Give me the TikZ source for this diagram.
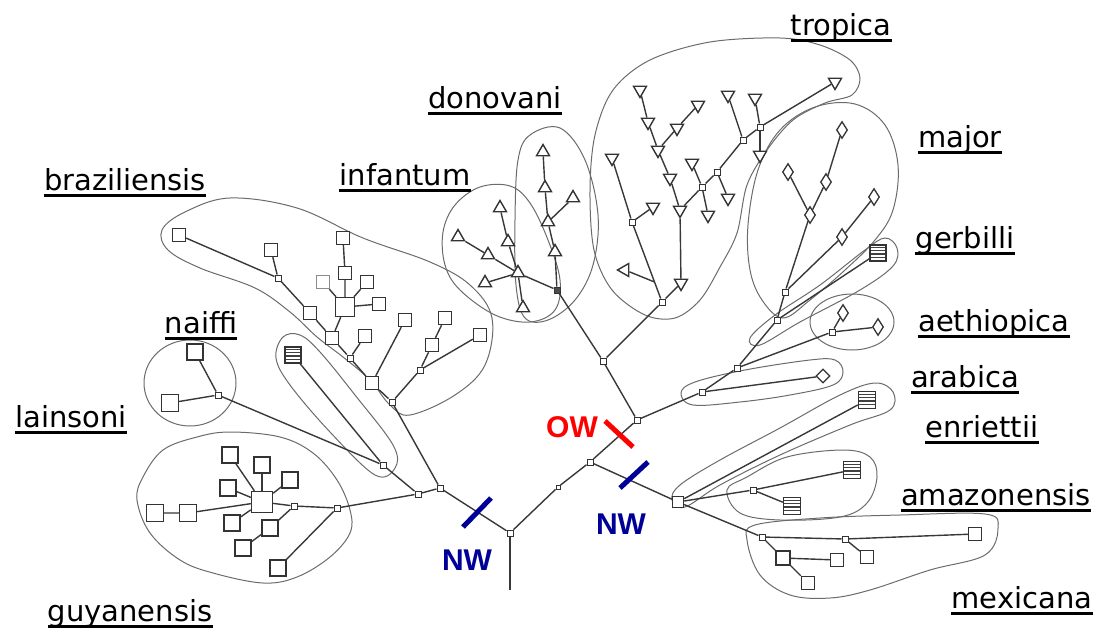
\documentclass[tikz,border=0pt]{standalone}
\usepackage{fontspec}
\usetikzlibrary{shapes.geometric,calc}
\newfontfamily\lblfont{DejaVu Sans}
\newfontfamily\nwfont{Liberation Sans}
\definecolor{nwblue}{RGB}{0,0,150}
\definecolor{owred}{RGB}{255,0,0}
\begin{document}
\begin{tikzpicture}[x=1pt,y=-1pt,
  ln/.style={draw=black!78, line width=1.4pt},
  hull/.style={draw=black!58, line width=1pt},
  jn/.style={draw=black!80, fill=white, rectangle, minimum size=6pt, inner sep=0pt, line width=1pt},
  djn/.style={jn, fill=black!70},
  sq/.style={draw=black!80, fill=white, rectangle, minimum size=13pt, inner sep=0pt, line width=1.4pt},
  bsq/.style={sq, minimum size=21pt},
  tri/.style={draw=black!80, fill=white, regular polygon, regular polygon sides=3, minimum size=15pt, inner sep=0pt, line width=1.4pt},
  trd/.style={tri, shape border rotate=180},
  dia/.style={draw=black!80, fill=white, diamond, minimum width=11pt, minimum height=17pt, inner sep=0pt, line width=1.3pt},
  hsq/.style={sq, minimum size=16pt, path picture={\foreach \f in {0.24,0.44,0.64,0.82}{\draw[line width=1.2pt,black!75] ($(path picture bounding box.south west)!\f!(path picture bounding box.north west)$) -- ($(path picture bounding box.south east)!\f!(path picture bounding box.north east)$);}}},
  lbl/.style={font={\lblfont\fontsize{29}{34}\selectfont}, inner sep=0pt, anchor=base},
  nwl/.style={font={\nwfont\bfseries\fontsize{30}{34}\selectfont}, inner sep=0pt},
  bar/.style={line width=5pt}
]
\useasboundingbox (0,0) rectangle (1097,632);

% ---------------- hulls ----------------
\draw[hull] plot[smooth cycle, tension=0.6] coordinates {(162,230) (185,212) (230,198) (297,208) (363,238) (430,262) (470,285) (492,318) (485,365) (455,395) (410,415) (390,405) (370,380) (343,357) (317,337) (290,312) (255,288) (200,268) (168,250)};
\draw[hull] (190,383) ellipse [x radius=46, y radius=43];
\draw[hull] plot[smooth cycle, tension=0.6] coordinates {(283,337) (300,335) (320,352) (355,395) (393,445) (395,468) (375,475) (330,432) (290,385) (276,358)};
\draw[hull] plot[smooth cycle, tension=0.6] coordinates {(137,500) (143,477) (163,450) (197,437) (230,432) (280,437) (313,453) (337,480) (350,510) (350,533) (330,557) (297,577) (263,583) (213,573) (180,560) (150,533)};
\draw[hull] plot[smooth cycle, tension=0.6] coordinates {(443,232) (455,205) (480,187) (510,186) (530,203) (548,240) (560,280) (555,310) (530,322) (495,315) (460,290) (445,265)};
\draw[hull] plot[smooth cycle, tension=0.6] coordinates {(518,160) (530,135) (560,128) (585,160) (598,215) (593,265) (575,300) (548,320) (525,318) (516,285) (515,220)};
\draw[hull] plot[smooth cycle, tension=0.55] coordinates {(780,38) (820,45) (850,60) (860,78) (852,95) (825,103) (793,120) (767,150) (747,185) (737,233) (720,267) (700,300) (675,318) (645,315) (612,290) (594,250) (590,190) (595,135) (613,90) (650,60) (710,42)};
\draw[hull] plot[smooth cycle, tension=0.6] coordinates {(783,318) (762,300) (750,270) (748,225) (758,170) (780,130) (815,107) (855,104) (885,125) (898,165) (893,210) (875,240) (845,270) (810,300)};
\draw[hull] plot[smooth cycle, tension=0.6] coordinates {(750,338) (775,315) (820,285) (865,250) (885,238) (897,248) (893,266) (860,290) (800,322) (760,345)};
\draw[hull] (852,322) ellipse [x radius=42, y radius=28];
\draw[hull] plot[smooth cycle, tension=0.6] coordinates {(681,393) (695,382) (745,370) (810,360) (835,360) (843,372) (833,385) (790,395) (740,402) (693,405)};
\draw[hull] plot[smooth cycle, tension=0.6] coordinates {(672,500) (680,485) (720,460) (780,428) (840,395) (875,383) (893,392) (890,410) (850,425) (780,455) (720,485) (685,507)};
\draw[hull] plot[smooth cycle, tension=0.6] coordinates {(727,490) (747,477) (787,457) (843,450) (870,457) (877,477) (867,503) (840,517) (780,520) (740,513)};
\draw[hull] plot[smooth cycle, tension=0.6] coordinates {(747,540) (755,525) (820,518) (900,515) (985,514) (998,528) (985,555) (930,570) (870,590) (830,598) (790,595) (760,575)};

% ---------------- backbone nodes ----------------
\coordinate (root) at (510,590);
\node[jn] (r1) at (510,533) {};
\node[jn] (l1) at (440,488) {};
\node[jn] (l2) at (418,494) {};
\node[jn] (c1) at (383,465) {};
\node[jn, minimum size=4pt] (bmp) at (558,487) {};
\node[jn] (r2) at (590,462) {};
\node[jn] (r3) at (637,420) {};
\node[jn] (up) at (603,361) {};
\node[djn] (d0) at (557,290) {};
\node[jn] (t0) at (662,302) {};
\node[jn] (ar) at (702,392) {};
\node[jn] (ae0) at (737,368) {};
\node[jn] (gb) at (777,320) {};
\node[jn] (mj) at (785,292) {};
\node[sq, minimum size=11pt] (nw0) at (678,502) {};

% braziliensis
\node[sq] (b1) at (179,235) {};
\node[jn] (b2) at (278,278) {};
\node[sq] (b2a) at (271,250) {};
\node[sq] (b3) at (310,313) {};
\node[sq] (b4) at (332,338) {};
\node[jn] (b5) at (350,358) {};
\node[sq] (b5a) at (365,336) {};
\node[sq] (b6) at (372,383) {};
\node[sq] (b6a) at (405,320) {};
\node[jn] (b7) at (392,402) {};
\node[jn] (b8) at (420,370) {};
\node[sq] (b8a) at (432,345) {};
\node[sq] (b8b) at (445,318) {};
\node[sq] (b8c) at (480,335) {};
\node[bsq, minimum size=19pt] (bb) at (345,307) {};
\node[sq] (bb1) at (345,273) {};
\node[sq] (bb2) at (343,238) {};
\node[sq, draw=black!45] (bb3) at (323,282) {};
\node[sq] (bb4) at (367,282) {};
\node[sq] (bb5) at (379,304) {};

% naiffi + hatched
\node[jn] (nf0) at (218,395) {};
\node[sq, minimum size=16pt] (nf1) at (195,352) {};
\node[sq, minimum size=17pt] (nf2) at (170,403) {};
\node[hsq] (h1) at (293,355) {};

% guyanensis
\node[jn] (g1) at (337,508) {};
\node[jn] (g2) at (294,506) {};
\node[bsq] (g3) at (262,502) {};
\node[sq, minimum size=17pt] (g4) at (188,513) {};
\node[sq, minimum size=17pt] (g5) at (155,513) {};
\node[sq, minimum size=16pt] (g6) at (230,455) {};
\node[sq, minimum size=16pt] (g7) at (262,465) {};
\node[sq, minimum size=16pt] (g8) at (290,480) {};
\node[sq, minimum size=16pt] (g11) at (228,488) {};
\node[sq, minimum size=16pt] (g12) at (232,523) {};
\node[sq, minimum size=16pt] (g9) at (270,528) {};
\node[sq, minimum size=16pt] (g10) at (243,548) {};
\node[sq, minimum size=16pt] (g13) at (278,568) {};

% donovani / infantum
\node[tri] (d1) at (555,252) {};
\node[tri] (d2) at (548,222) {};
\node[tri] (d3) at (545,188) {};
\node[tri] (d4) at (543,152) {};
\node[tri] (d5) at (573,198) {};
\node[tri] (i0) at (518,273) {};
\node[tri] (i1) at (508,242) {};
\node[tri] (i2) at (500,208) {};
\node[tri] (i3) at (488,255) {};
\node[tri] (i4) at (458,237) {};
\node[tri] (i5) at (485,283) {};
\node[tri] (i6) at (523,308) {};

% tropica
\node[jn] (t1) at (632,222) {};
\node[trd] (tA) at (612,158) {};
\node[trd] (tB) at (653,207) {};
\coordinate (tLb) at ($(t0)!0.25!(t1)$);
\node[tri, shape border rotate=90] (tL) at (625,270) {};
\node[trd] (t2) at (681,283) {};
\node[trd] (t3) at (680,210) {};
\node[trd] (t4) at (670,178) {};
\node[trd] (t5) at (658,150) {};
\node[trd] (t6) at (648,122) {};
\node[trd] (t7) at (640,90) {};
\node[trd] (t8) at (677,128) {};
\node[trd] (t9) at (698,105) {};
\node[jn] (t10) at (702,187) {};
\node[trd] (t11) at (692,163) {};
\node[trd] (t12) at (708,215) {};
\node[jn] (t13) at (717,172) {};
\node[trd] (t14) at (728,198) {};
\node[jn] (t15) at (743,140) {};
\node[trd] (t16) at (728,95) {};
\node[jn] (t17) at (760,127) {};
\node[trd] (t18) at (755,98) {};
\node[trd] (t19) at (760,155) {};
\node[tri, shape border rotate=-60] (t20) at (835,82) {};

% major, gerbilli, aethiopica, arabica
\node[dia] (mjA) at (810,215) {};
\node[dia] (mjB) at (788,172) {};
\node[dia] (mjC) at (826,182) {};
\node[dia] (mjD) at (842,130) {};
\node[dia] (mjE) at (842,237) {};
\node[dia] (mjF) at (874,197) {};
\node[hsq] (gh) at (878,253) {};
\node[jn] (ae1) at (832,332) {};
\node[dia] (ae2) at (843,313) {};
\node[dia] (ae3) at (878,327) {};
\node[dia, minimum width=14pt, minimum height=14pt] (ard) at (823,376) {};

% NW clusters
\node[hsq, minimum size=17pt] (e1) at (867,400) {};
\node[jn] (a1) at (753,490) {};
\node[hsq, minimum size=17pt] (a2) at (852,470) {};
\node[hsq, minimum size=17pt] (a3) at (792,506) {};
\node[jn] (m1) at (762,537) {};
\node[jn] (m2) at (845,539) {};
\node[sq] (m3) at (975,534) {};
\node[sq] (m4) at (867,557) {};
\node[sq, minimum size=14pt] (m5) at (783,558) {};
\node[sq] (m6) at (837,560) {};
\node[sq] (m7) at (808,583) {};

% ---------------- connectors ----------------
\draw[ln] (root) -- (r1);
\draw[ln] (r1) -- (l1) -- (l2) -- (c1);
\draw[ln] (l1) -- (b7);
\draw[ln] (l2) -- (g1);
\draw[ln] (r1) -- (bmp) -- (r2) -- (r3);
\draw[ln] (r2) -- (nw0);
\draw[ln] (r3) -- (up) -- (d0);
\draw[ln] (up) -- (t0);
\draw[ln] (r3) -- (ar) -- (ae0) -- (gb) -- (mj);

\draw[ln] (b1) -- (b2) -- (b3) -- (b4) -- (b5) -- (b6) -- (b7);
\draw[ln] (b2) -- (b2a);
\draw[ln] (b4) -- (bb) -- (bb1) -- (bb2);
\draw[ln] (bb) -- (bb3);
\draw[ln] (bb) -- (bb4);
\draw[ln] (bb) -- (bb5);
\draw[ln] (b5) -- (b5a);
\draw[ln] (b6) -- (b6a);
\draw[ln] (b7) -- (b8) -- (b8a) -- (b8b);
\draw[ln] (b8) -- (b8c);

\draw[ln] (nf0) -- (nf1);
\draw[ln] (nf0) -- (nf2);
\draw[ln] (nf0) -- (c1);
\draw[ln] (h1) -- (c1);

\draw[ln] (g1) -- (g2) -- (g3) -- (g4) -- (g5);
\draw[ln] (g3) -- (g6);
\draw[ln] (g3) -- (g7);
\draw[ln] (g3) -- (g8);
\draw[ln] (g3) -- (g11);
\draw[ln] (g3) -- (g12);
\draw[ln] (g2) -- (g9) -- (g10);
\draw[ln] (g1) -- (g13);

\draw[ln] (d0) -- (d1) -- (d2) -- (d3) -- (d4);
\draw[ln] (d2) -- (d5);
\draw[ln] (d0) -- (i0);
\draw[ln] (i0) -- (i1) -- (i2);
\draw[ln] (i0) -- (i3) -- (i4);
\draw[ln] (i0) -- (i5);
\draw[ln] (i0) -- (i6);

\draw[ln] (t0) -- (t1) -- (tA);
\draw[ln] (t1) -- (tB);
\draw[ln] (tLb) -- (tL);
\draw[ln] (t0) -- (t2) -- (t3);
\draw[ln] (t3) -- (t4) -- (t5) -- (t6) -- (t7);
\draw[ln] (t5) -- (t8) -- (t9);
\draw[ln] (t3) -- (t10) -- (t13) -- (t15) -- (t17) -- (t20);
\draw[ln] (t10) -- (t11);
\draw[ln] (t10) -- (t12);
\draw[ln] (t13) -- (t14);
\draw[ln] (t15) -- (t16);
\draw[ln] (t17) -- (t18);
\draw[ln] (t17) -- (t19);

\draw[ln] (mj) -- (mjA) -- (mjB);
\draw[ln] (mjA) -- (mjC) -- (mjD);
\draw[ln] (mj) -- (mjE) -- (mjF);
\draw[ln] (gb) -- (gh);
\draw[ln] (ae0) -- (ae1);
\draw[ln] (ae1) -- (ae2);
\draw[ln] (ae1) -- (ae3);
\draw[ln] (ar) -- (ard);

\draw[ln] (nw0) -- (e1);
\draw[ln] (nw0) -- (a1) -- (a2);
\draw[ln] (a1) -- (a3);
\draw[ln] (nw0) -- (m1) -- (m2) -- (m3);
\draw[ln] (m2) -- (m4);
\draw[ln] (m1) -- (m5) -- (m6);
\draw[ln] (m5) -- (m7);

% ---------------- NW / OW marks ----------------
\draw[bar, nwblue] (463,527) -- (491,498);
\draw[bar, nwblue] (620,488) -- (648,462);
\draw[bar, owred] (605,421) -- (633,447);
\node[nwl, text=nwblue] (nwa) at (467,560) {NW};
\node[nwl, text=nwblue] (nwb) at (621,524) {NW};
\node[nwl, text=owred] (ow) at (572,427) {OW};

% ---------------- labels ----------------
\foreach \nm/\x/\y/\txt in {Ltro/841/35/tropica, Ldon/495/108/donovani, Lmaj/960/147/major, Lbra/125/190/braziliensis, Linf/405/185/infantum, Lger/965/248/gerbilli, Lnai/201/333/naiffi, Laet/994/331/aethiopica, Lara/965/387/arabica, Llai/71/427/lainsoni, Lenr/982/437/enriettii, Lama/996/505/amazonensis, Lguy/130/621/guyanensis, Lmex/1022/608/mexicana}{
  \node[lbl] (\nm) at (\x,\y) {\txt};
  \draw[line width=3pt] ([yshift=-5pt]\nm.base west) -- ([yshift=-5pt]\nm.base east);
}
\end{tikzpicture}
\end{document}
